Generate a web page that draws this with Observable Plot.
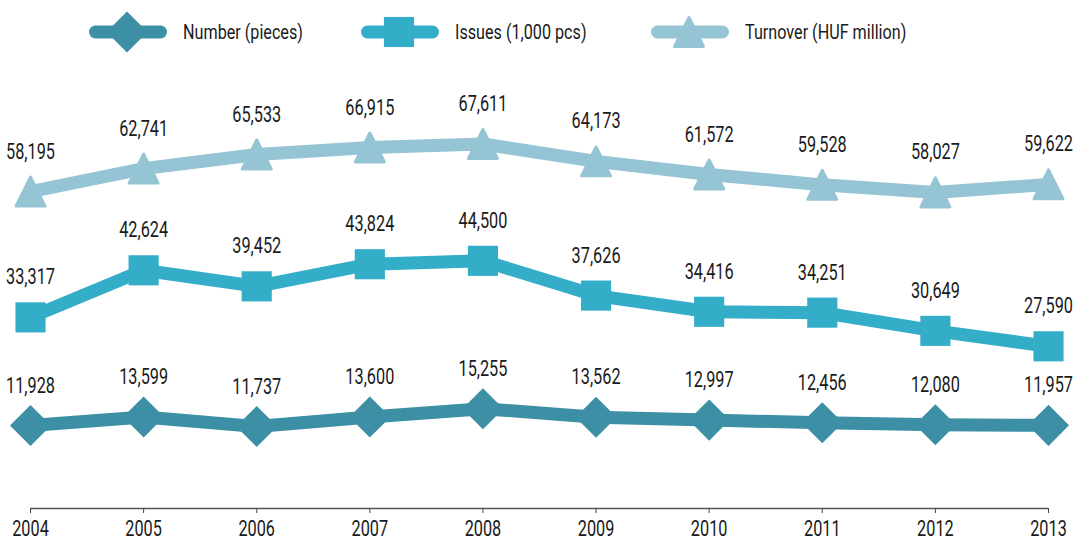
<!DOCTYPE html>
<html>
<head>
<meta charset="utf-8">
<script src="https://cdn.jsdelivr.net/npm/d3@7"></script>
<script src="https://cdn.jsdelivr.net/npm/@observablehq/plot@0.6"></script>
<style>
  body { margin: 0; background: #fff; font-family: Roboto, "Liberation Sans", sans-serif; }
  #legend { position: relative; width: 1074px; height: 64px; }
  .item { position: absolute; top: 0; height: 64px; display: flex; align-items: center; font-size: 21px; color: #1a1a1a; white-space: nowrap; }
  .item span { margin-left: 16px; display: inline-block; transform: scaleX(0.77); transform-origin: left center; }
</style>
</head>
<body>
<div id="legend"></div>
<div id="chart"></div>
<script>
// ---- data ----
const years = [2004, 2005, 2006, 2007, 2008, 2009, 2010, 2011, 2012, 2013];
const numberPieces = [11928, 13599, 11737, 13600, 15255, 13562, 12997, 12456, 12080, 11957];
const issues = [33317, 42624, 39452, 43824, 44500, 37626, 34416, 34251, 30649, 27590];
const turnover = [58195, 62741, 65533, 66915, 67611, 64173, 61572, 59528, 58027, 59622];
const seriesNames = ["Number (pieces)", "Issues (1,000 pcs)", "Turnover (HUF million)"];
const seriesColors = ["#3d8fa5", "#33adc8", "#95c4d5"];

// ---- symbols ----
const triangleSymbol = {
  draw(ctx, size) {
    const r = Math.sqrt(size / Math.PI);
    ctx.moveTo(0, -r);
    ctx.lineTo(r, r);
    ctx.lineTo(-r, r);
    ctx.closePath();
  }
};
const symbolTypes = [d3.symbolDiamond2, d3.symbolSquare, triangleSymbol];
const symbolRadii = [18.5, 17, 14.5];

// ---- legend ----
const legendLeft = [89, 361, 651];
const legend = d3.select("#legend");
seriesNames.forEach((name, i) => {
  const item = legend.append("div").attr("class", "item").style("left", legendLeft[i] + "px");
  const svg = item.append("svg").attr("width", 78).attr("height", 44);
  svg.append("line")
    .attr("x1", 6.5).attr("x2", 71.5).attr("y1", 22).attr("y2", 22)
    .attr("stroke", seriesColors[i]).attr("stroke-width", 13).attr("stroke-linecap", "round");
  svg.append("path")
    .attr("transform", "translate(38,22)")
    .attr("d", d3.symbol(symbolTypes[i], Math.PI * symbolRadii[i] ** 2)())
    .attr("fill", seriesColors[i])
    .attr("stroke", seriesColors[i])
    .attr("stroke-width", i === 2 ? 3 : 0)
    .attr("stroke-linejoin", "round");
  item.append("span").text(name);
});

// ---- chart ----
const seriesValues = [numberPieces, issues, turnover];
const tables = seriesValues.map(vals => years.map((year, i) => ({year, value: vals[i]})));
const fmt = d3.format(",");
const yMin = -4490, yMax = 83333;

const marks = [
  Plot.ruleY([yMin], {x1: () => years[0], x2: () => years[years.length - 1], stroke: "#555", strokeWidth: 1.5}),
  Plot.axisX({ticks: years, tickFormat: d => String(d), tickSize: 5, tickPadding: 7, stroke: "#444", fill: "#1a1a1a", fontSize: 22, label: null})
];
tables.forEach((t, i) => {
  marks.push(Plot.lineY(t, {x: "year", y: "value", stroke: seriesColors[i], strokeWidth: 13, strokeLinejoin: "round"}));
});
tables.forEach((t, i) => {
  marks.push(Plot.dot(t, {
    x: "year", y: "value", symbol: symbolTypes[i], r: symbolRadii[i],
    fill: seriesColors[i], stroke: seriesColors[i], strokeWidth: i === 2 ? 3 : 0, strokeLinejoin: "round"
  }));
});
tables.forEach((t, i) => {
  marks.push(Plot.text(t, {x: "year", y: "value", text: d => fmt(d.value), dy: -40, fontSize: 22, fill: "#1a1a1a"}));
});

const chart = Plot.plot({
  width: 1074,
  height: 477,
  marginLeft: 30,
  marginRight: 26,
  marginTop: 0,
  marginBottom: 33,
  style: {fontFamily: 'Roboto, "Liberation Sans", sans-serif', fontSize: "22px", color: "#1a1a1a", background: "#fff", overflow: "visible"},
  x: {type: "linear", domain: [years[0], years[years.length - 1]], axis: null},
  y: {domain: [yMin, yMax], axis: null},
  marks
});
document.getElementById("chart").appendChild(chart);

// condense the text horizontally (reference uses a condensed face)
chart.querySelectorAll("text").forEach(el => {
  const t = el.getAttribute("transform");
  if (t) el.setAttribute("transform", t + " scale(0.74,1)");
  else {
    el.setAttribute("textLength", (el.getComputedTextLength() * 0.74).toFixed(1));
    el.setAttribute("lengthAdjust", "spacingAndGlyphs");
  }
});
</script>
</body>
</html>
